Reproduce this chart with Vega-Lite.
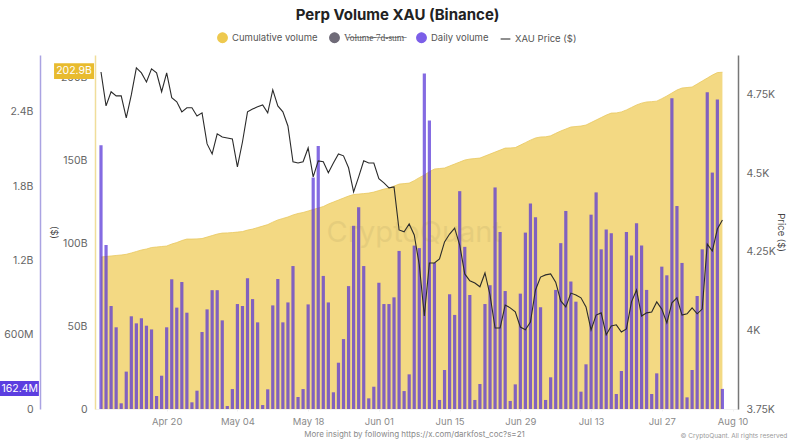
{"$schema":"https://vega.github.io/schema/vega-lite/v6.json","width":643,"height":354,"autosize":"none","padding":{"left":95,"top":55,"right":62,"bottom":35},"background":"white",
"title":{"text":"Perp Volume XAU (Binance)","font":"Inter","fontSize":15,"fontWeight":"bold","color":"#222","anchor":"middle","frame":"group","dx":-19,"offset":9},
"config":{"view":{"stroke":null},"font":"Inter"},
"data":{"values":[
{"date":"2026-04-07","cumulative":91.6,"daily":2130,"price":4823},{"date":"2026-04-08","cumulative":91.9,"daily":1325,"price":4715},{"date":"2026-04-09","cumulative":92.2,"daily":832,"price":4760},{"date":"2026-04-10","cumulative":92.5,"daily":660,"price":4747},{"date":"2026-04-11","cumulative":92.8,"daily":46,"price":4747},{"date":"2026-04-12","cumulative":93.2,"daily":302,"price":4677},{"date":"2026-04-13","cumulative":94.0,"daily":749,"price":4750},{"date":"2026-04-14","cumulative":94.9,"daily":692,"price":4836},{"date":"2026-04-15","cumulative":95.8,"daily":733,"price":4820},{"date":"2026-04-16","cumulative":96.4,"daily":673,"price":4791},{"date":"2026-04-17","cumulative":97.3,"daily":643,"price":4833},{"date":"2026-04-18","cumulative":97.6,"daily":105,"price":4820},{"date":"2026-04-19","cumulative":97.9,"daily":269,"price":4760},{"date":"2026-04-20","cumulative":98.2,"daily":660,"price":4820},{"date":"2026-04-21","cumulative":99.4,"daily":1048,"price":4741},{"date":"2026-04-22","cumulative":100.3,"daily":819,"price":4728},{"date":"2026-04-23","cumulative":101.5,"daily":1026,"price":4696},{"date":"2026-04-24","cumulative":102.4,"daily":778,"price":4709},{"date":"2026-04-25","cumulative":102.4,"daily":54,"price":4709},{"date":"2026-04-26","cumulative":102.5,"daily":148,"price":4683},{"date":"2026-04-27","cumulative":102.7,"daily":622,"price":4693},{"date":"2026-04-28","cumulative":103.6,"daily":805,"price":4594},{"date":"2026-04-29","cumulative":104.5,"daily":960,"price":4562},{"date":"2026-04-30","cumulative":105.4,"daily":960,"price":4626},
{"date":"2026-05-01","cumulative":106.0,"daily":716,"price":4616},{"date":"2026-05-02","cumulative":106.1,"daily":24,"price":4613},{"date":"2026-05-03","cumulative":106.3,"daily":161,"price":4610},{"date":"2026-05-04","cumulative":106.6,"daily":848,"price":4521},{"date":"2026-05-05","cumulative":106.9,"daily":832,"price":4600},{"date":"2026-05-06","cumulative":107.8,"daily":1056,"price":4696},{"date":"2026-05-07","cumulative":108.4,"daily":888,"price":4705},{"date":"2026-05-08","cumulative":109.3,"daily":700,"price":4712},{"date":"2026-05-09","cumulative":110.2,"daily":32,"price":4718},{"date":"2026-05-10","cumulative":111.1,"daily":159,"price":4693},{"date":"2026-05-11","cumulative":112.6,"daily":837,"price":4766},{"date":"2026-05-12","cumulative":113.9,"daily":1050,"price":4715},{"date":"2026-05-13","cumulative":114.8,"daily":700,"price":4696},{"date":"2026-05-14","cumulative":115.7,"daily":861,"price":4651},{"date":"2026-05-15","cumulative":116.9,"daily":1155,"price":4537},{"date":"2026-05-16","cumulative":117.8,"daily":97,"price":4533},{"date":"2026-05-17","cumulative":118.4,"daily":161,"price":4537},{"date":"2026-05-18","cumulative":119.3,"daily":845,"price":4581},{"date":"2026-05-19","cumulative":120.2,"daily":1870,"price":4489},{"date":"2026-05-20","cumulative":121.1,"daily":2125,"price":4540},{"date":"2026-05-21","cumulative":122.0,"daily":1075,"price":4537},{"date":"2026-05-22","cumulative":123.5,"daily":861,"price":4502},{"date":"2026-05-23","cumulative":124.7,"daily":135,"price":4533},{"date":"2026-05-24","cumulative":125.9,"daily":374,"price":4562},{"date":"2026-05-25","cumulative":127.1,"daily":565,"price":4556},{"date":"2026-05-26","cumulative":128.3,"daily":993,"price":4518},{"date":"2026-05-27","cumulative":129.2,"daily":1480,"price":4441},{"date":"2026-05-28","cumulative":129.5,"daily":1630,"price":4489},{"date":"2026-05-29","cumulative":129.8,"daily":1155,"price":4540},{"date":"2026-05-30","cumulative":130.1,"daily":86,"price":4533},{"date":"2026-05-31","cumulative":130.7,"daily":180,"price":4533},
{"date":"2026-06-01","cumulative":131.6,"daily":1020,"price":4483},{"date":"2026-06-02","cumulative":132.5,"daily":848,"price":4470},{"date":"2026-06-03","cumulative":133.1,"daily":848,"price":4454},{"date":"2026-06-04","cumulative":134.3,"daily":902,"price":4457},{"date":"2026-06-05","cumulative":135.5,"daily":1277,"price":4320},{"date":"2026-06-06","cumulative":135.8,"daily":145,"price":4314},{"date":"2026-06-07","cumulative":136.1,"daily":280,"price":4339},{"date":"2026-06-08","cumulative":137.6,"daily":1320,"price":4304},{"date":"2026-06-09","cumulative":139.4,"daily":1300,"price":4209},{"date":"2026-06-10","cumulative":141.0,"daily":2710,"price":4046},{"date":"2026-06-11","cumulative":143.0,"daily":2330,"price":4215},{"date":"2026-06-12","cumulative":144.6,"daily":1180,"price":4215},{"date":"2026-06-13","cumulative":144.9,"daily":73,"price":4228},{"date":"2026-06-14","cumulative":145.2,"daily":315,"price":4282},{"date":"2026-06-15","cumulative":146.4,"daily":927,"price":4307},{"date":"2026-06-16","cumulative":147.6,"daily":760,"price":4326},{"date":"2026-06-17","cumulative":148.8,"daily":1760,"price":4272},{"date":"2026-06-18","cumulative":150.0,"daily":1310,"price":4180},{"date":"2026-06-19","cumulative":150.6,"daily":921,"price":4158},{"date":"2026-06-20","cumulative":150.9,"daily":73,"price":4151},{"date":"2026-06-21","cumulative":151.2,"daily":202,"price":4139},{"date":"2026-06-22","cumulative":152.4,"daily":848,"price":4183},{"date":"2026-06-23","cumulative":153.6,"daily":1000,"price":4113},{"date":"2026-06-24","cumulative":154.8,"daily":1790,"price":4008},{"date":"2026-06-25","cumulative":156.0,"daily":1430,"price":4008},{"date":"2026-06-26","cumulative":157.2,"daily":953,"price":4081},{"date":"2026-06-27","cumulative":157.3,"daily":65,"price":4072},{"date":"2026-06-28","cumulative":157.5,"daily":199,"price":4059},{"date":"2026-06-29","cumulative":159.0,"daily":932,"price":4011},{"date":"2026-06-30","cumulative":160.5,"daily":1425,"price":4002},
{"date":"2026-07-01","cumulative":162.0,"daily":1660,"price":4027},{"date":"2026-07-02","cumulative":163.3,"daily":1550,"price":4129},{"date":"2026-07-03","cumulative":163.9,"daily":822,"price":4170},{"date":"2026-07-04","cumulative":164.0,"daily":73,"price":4177},{"date":"2026-07-05","cumulative":164.6,"daily":256,"price":4180},{"date":"2026-07-06","cumulative":166.1,"daily":962,"price":4154},{"date":"2026-07-07","cumulative":167.5,"daily":1340,"price":4094},{"date":"2026-07-08","cumulative":168.7,"daily":1600,"price":4075},{"date":"2026-07-09","cumulative":169.9,"daily":1030,"price":4119},{"date":"2026-07-10","cumulative":170.2,"daily":867,"price":4113},{"date":"2026-07-11","cumulative":170.5,"daily":140,"price":4104},{"date":"2026-07-12","cumulative":171.1,"daily":361,"price":4075},{"date":"2026-07-13","cumulative":172.6,"daily":1570,"price":4002},{"date":"2026-07-14","cumulative":174.1,"daily":1750,"price":4049},{"date":"2026-07-15","cumulative":175.6,"daily":1290,"price":4056},{"date":"2026-07-16","cumulative":177.1,"daily":1450,"price":3986},{"date":"2026-07-17","cumulative":178.3,"daily":1420,"price":4014},{"date":"2026-07-18","cumulative":178.4,"daily":121,"price":4018},{"date":"2026-07-19","cumulative":179.0,"daily":307,"price":3995},{"date":"2026-07-20","cumulative":180.2,"daily":1430,"price":4005},{"date":"2026-07-21","cumulative":181.7,"daily":1240,"price":4091},{"date":"2026-07-22","cumulative":183.2,"daily":1500,"price":4129},{"date":"2026-07-23","cumulative":184.3,"daily":1320,"price":4046},{"date":"2026-07-24","cumulative":185.0,"daily":962,"price":4056},{"date":"2026-07-25","cumulative":185.2,"daily":121,"price":4059},{"date":"2026-07-26","cumulative":185.5,"daily":288,"price":4091},{"date":"2026-07-27","cumulative":187.0,"daily":1150,"price":4068},{"date":"2026-07-28","cumulative":188.6,"daily":1080,"price":4024},{"date":"2026-07-29","cumulative":190.4,"daily":2510,"price":4088},{"date":"2026-07-30","cumulative":192.2,"daily":1640,"price":4104},{"date":"2026-07-31","cumulative":193.4,"daily":1180,"price":4049},
{"date":"2026-08-01","cumulative":193.7,"daily":94,"price":4053},{"date":"2026-08-02","cumulative":194.0,"daily":315,"price":4072},{"date":"2026-08-03","cumulative":195.8,"daily":913,"price":4053},{"date":"2026-08-04","cumulative":197.6,"daily":1290,"price":4068},{"date":"2026-08-05","cumulative":199.4,"daily":2560,"price":4275},{"date":"2026-08-06","cumulative":201.2,"daily":1910,"price":4253},{"date":"2026-08-07","cumulative":202.7,"daily":2500,"price":4323},{"date":"2026-08-08","cumulative":202.9,"daily":162.4,"price":4352}
]},
"resolve":{"scale":{"y":"independent"},"axis":{"y":"independent"}},
"layer":[
{"mark":{"type":"area","color":"#f3d983","opacity":1,"line":{"color":"#e9c85f","strokeWidth":0.8}},
"encoding":{"x":{"field":"date","type":"temporal","title":"More insight by following https://x.com/darkfost_coc?s=21",
"scale":{"type":"utc","nice":false,"padding":0,"domain":[{"year":2026,"month":"apr","date":5,"hours":19,"minutes":30,"utc":true},{"year":2026,"month":"aug","date":11,"hours":2,"utc":true}]},
"axis":{"values":[{"year":2026,"month":"apr","date":20,"utc":true},{"year":2026,"month":"may","date":4,"utc":true},{"year":2026,"month":"may","date":18,"utc":true},{"year":2026,"month":"jun","date":1,"utc":true},{"year":2026,"month":"jun","date":15,"utc":true},{"year":2026,"month":"jun","date":29,"utc":true},{"year":2026,"month":"jul","date":13,"utc":true},{"year":2026,"month":"jul","date":27,"utc":true},{"year":2026,"month":"aug","date":10,"utc":true}],"labelExpr":"utcFormat(datum.value,'%b %d')","labelFontSize":9.5,"labelColor":"#8a8a8a","labelPadding":5,"tickSize":2,"tickColor":"#f0f0f0","domainColor":"#f2f2f2","grid":false,"titleFontSize":8,"titleFontWeight":"normal","titleColor":"#8a8a8a","titlePadding":5,"titleX":319,"labelFlush":false}},
"y":{"field":"cumulative","type":"quantitative","title":"($)","scale":{"domain":[0,213.3],"nice":false},
"axis":{"values":[0,50,100,150,200],"labelExpr":"datum.value==0?'0':datum.value+'B'","orient":"left","grid":false,"ticks":false,"labelFontSize":10.5,"labelColor":"#666","labelPadding":8,"domainColor":"#f0dd9a","domainWidth":1.5,"titleAngle":90,"titleFontSize":9.5,"titleFontWeight":"normal","titleColor":"#444","titlePadding":12}}}},
{"mark":{"type":"bar","color":"#5532d7","opacity":0.72,"size":3.2},
"encoding":{"x":{"field":"date","type":"temporal"},
"y":{"field":"daily","type":"quantitative","title":null,"scale":{"domain":[0,2860],"nice":false},
"axis":{"values":[0,600,1200,1800,2400],"labelExpr":"datum.value==0?'0':datum.value<1000?datum.value+'M':(datum.value/1000)+'B'","orient":"left","offset":55,"grid":false,"ticks":false,"labelFontSize":10.5,"labelColor":"#666","labelPadding":7,"domainColor":"#aaa3e2","domainWidth":1.5}}}},
{"mark":{"type":"line","color":"#2b2b2b","strokeWidth":1.1},
"encoding":{"x":{"field":"date","type":"temporal"},
"y":{"field":"price","type":"quantitative","title":"Price ($)","scale":{"domain":[3750,4877],"nice":false},
"axis":{"values":[3750,4000,4250,4500,4750],"labelExpr":"datum.value==4000?'4K':(datum.value/1000)+'K'","orient":"right","grid":false,"ticks":false,"labelFontSize":10.5,"labelColor":"#666","labelPadding":8,"domainColor":"#777","domainWidth":1.5,"titleAngle":90,"titleFontSize":9.5,"titleFontWeight":"normal","titleColor":"#444","titlePadding":0}}}},
{"data":{"values":[{"badge":"cumulative"}]},"mark":{"type":"rect","color":"#e8bb2e"},
"encoding":{"x":{"datum":{"year":2026,"month":"mar","date":28,"hours":17,"utc":true},"type":"temporal"},"x2":{"datum":{"year":2026,"month":"apr","date":5,"hours":15,"utc":true}},"y":{"datum":208.4,"type":"quantitative","scale":{"domain":[0,213.3],"nice":false},"axis":null},"y2":{"datum":198.8}}},
{"data":{"values":[{"badge":"cumulative"}]},"mark":{"type":"text","text":"202.9B","color":"#fff","fontSize":10.5,"align":"center","baseline":"middle"},
"encoding":{"x":{"datum":{"year":2026,"month":"apr","date":1,"hours":16,"utc":true},"type":"temporal"},"y":{"datum":203.6,"type":"quantitative","scale":{"domain":[0,213.3],"nice":false},"axis":null}}},
{"data":{"values":[{"badge":"daily"}]},"mark":{"type":"rect","color":"#5b3ee0"},
"encoding":{"x":{"datum":{"year":2026,"month":"mar","date":18,"utc":true},"type":"temporal"},"x2":{"datum":{"year":2026,"month":"mar","date":25,"hours":17,"utc":true}},"y":{"datum":226,"type":"quantitative","scale":{"domain":[0,2860],"nice":false},"axis":null},"y2":{"datum":105}}},
{"data":{"values":[{"badge":"daily"}]},"mark":{"type":"text","text":"162.4M","color":"#fff","fontSize":10.5,"align":"center","baseline":"middle"},
"encoding":{"x":{"datum":{"year":2026,"month":"mar","date":21,"hours":22,"utc":true},"type":"temporal"},"y":{"datum":165,"type":"quantitative","scale":{"domain":[0,2860],"nice":false},"axis":null}}},
{"data":{"values":[{"note":"watermark"}]},"mark":{"type":"text","text":"CryptoQuant","color":"#8a7a50","opacity":0.12,"fontSize":29,"align":"center","baseline":"middle"},
"encoding":{"x":{"datum":{"year":2026,"month":"jun","date":8,"utc":true},"type":"temporal"},"y":{"datum":106,"type":"quantitative","scale":{"domain":[0,213.3],"nice":false},"axis":null}}},
{"data":{"values":[{"note":"copyright"}]},"mark":{"type":"text","text":"© CryptoQuant. All rights reserved","color":"#999","fontSize":6.5,"align":"right","baseline":"middle"},
"encoding":{"x":{"datum":{"year":2026,"month":"aug","date":20,"hours":20,"utc":true},"type":"temporal"},"y":{"datum":-16.3,"type":"quantitative","scale":{"domain":[0,213.3],"nice":false},"axis":null}}},
{"data":{"values":[{"series":"Cumulative volume"},{"series":"Volume 7d-sum"},{"series":"Daily volume"},{"series":"XAU Price ($)"}]},
"mark":{"type":"point","filled":true,"size":0,"opacity":1,"strokeWidth":1.1},
"encoding":{
"fill":{"field":"series","type":"nominal","scale":{"domain":["Cumulative volume","Volume 7d-sum","Daily volume","XAU Price ($)"],"range":["#eec94f","#6f6b78","#7c5fe8","#333333"]},
"legend":{"title":null,"orient":"none","legendX":122,"legendY":-23,"direction":"horizontal","columns":4,"symbolSize":95,"symbolOpacity":1,"symbolStrokeWidth":1.1,"labelFontSize":9.5,"labelColor":"#555","columnPadding":9,"labelOffset":4,"labelExpr":"datum.label=='Volume 7d-sum'?'V̶o̶l̶u̶m̶e̶ ̶7̶d̶-̶s̶u̶m̶':datum.label","encoding":{"labels":{"update":{"fill":{"signal":"datum.value=='Volume 7d-sum'?'#aaa':'#555'"}}}}}},
"stroke":{"field":"series","type":"nominal","scale":{"domain":["Cumulative volume","Volume 7d-sum","Daily volume","XAU Price ($)"],"range":["#eec94f","#6f6b78","#7c5fe8","#333333"]},"legend":{}},
"shape":{"field":"series","type":"nominal","scale":{"domain":["Cumulative volume","Volume 7d-sum","Daily volume","XAU Price ($)"],"range":["circle","circle","circle","stroke"]},"legend":{}}}}
]}
